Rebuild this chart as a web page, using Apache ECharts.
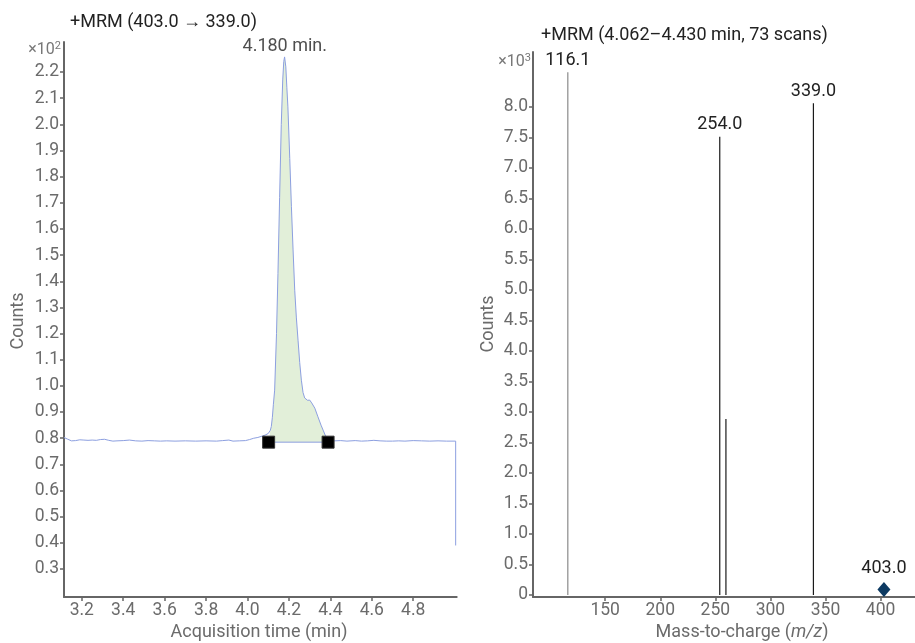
<!DOCTYPE html>
<html><head><meta charset="utf-8">
<script src="https://cdn.jsdelivr.net/npm/echarts@6/dist/echarts.min.js"></script>
<style>html,body{margin:0;padding:0;background:#fff}#c{width:915px;height:643px}</style>
</head><body><div id="c"></div>
<script>
// ---- Chromatogram (left), counts x10^2 ----
const times = [3.114,3.13,3.15,3.17,3.19,3.21,3.23,3.25,3.27,3.29,3.31,3.33,3.35,3.37,3.40,3.43,3.46,3.49,3.52,3.55,3.58,3.61,3.65,3.70,3.75,3.80,3.85,3.88,3.91,3.93,3.96,3.99,4.01,4.03,4.05,4.07,4.085,4.10,4.11,4.115,4.12,4.125,4.131,4.14,4.147,4.155,4.163,4.17,4.175,4.179,4.185,4.19,4.195,4.204,4.212,4.22,4.228,4.236,4.244,4.252,4.26,4.268,4.276,4.285,4.29,4.30,4.31,4.325,4.34,4.355,4.365,4.375,4.385,4.40,4.42,4.45,4.48,4.52,4.55,4.58,4.61,4.64,4.67,4.70,4.73,4.76,4.80,4.84,4.88,4.92,4.96,5.005,5.005];
const counts = [0.803,0.797,0.790,0.791,0.794,0.793,0.792,0.793,0.792,0.795,0.796,0.792,0.789,0.790,0.791,0.793,0.790,0.789,0.791,0.790,0.789,0.790,0.789,0.790,0.789,0.790,0.789,0.791,0.793,0.789,0.790,0.791,0.795,0.800,0.803,0.808,0.812,0.818,0.830,0.845,0.88,0.93,0.984,1.20,1.43,1.72,2.00,2.17,2.24,2.258,2.22,2.14,2.067,1.87,1.685,1.52,1.366,1.26,1.175,1.09,1.022,0.975,0.954,0.950,0.945,0.946,0.935,0.915,0.882,0.850,0.831,0.812,0.800,0.793,0.790,0.791,0.789,0.791,0.789,0.790,0.792,0.790,0.789,0.789,0.790,0.789,0.791,0.790,0.789,0.790,0.789,0.789,0.39];
const peakTime = 4.180, peakCount = 2.258, peakLabel = '4.180 min.';
const integStart = 4.102, integEnd = 4.389, integBase = 0.785;
const leftTicks = [0.3,0.4,0.5,0.6,0.7,0.8,0.9,1.0,1.1,1.2,1.3,1.4,1.5,1.6,1.7,1.8,1.9,2.0,2.1,2.2];
const timeTicks = [3.2,3.4,3.6,3.8,4.0,4.2,4.4,4.6,4.8];

// ---- Spectrum (right), counts x10^3 ----
const mz = [116.1, 254.0, 259.6, 339.0];
const intensity = [8.57, 7.51, 2.885, 8.06];
const mzLabels = ['116.1', '254.0', '', '339.0'];
const precursorMz = 403.0, precursorY = 0.09, precursorLabel = '403.0';
const rightTicks = [0,0.5,1.0,1.5,2.0,2.5,3.0,3.5,4.0,4.5,5.0,5.5,6.0,6.5,7.0,7.5,8.0];
const mzTicks = [150,200,250,300,350,400];

const FONT = 'Roboto';
const axisGrey = '#6b6b6b';
const chart = echarts.init(document.getElementById('c'));

const trace = times.map((t,i)=>[t,counts[i]]);
const fill = [[integStart, integBase]].concat(trace.filter(p=>p[0]>integStart && p[0]<integEnd)).concat([[integEnd, integBase]]);

const lab = (vals, fmt) => ({customValues:vals, margin:5, formatter:fmt, fontFamily:FONT, fontSize:17.5, color:axisGrey});
const line = () => ({show:true, onZero:false, lineStyle:{color:'#666666', width:2, type:'solid', opacity:1}});
const tick = vals => ({show:true, customValues:vals, length:4, lineStyle:{color:'#666666', width:1.5}});

chart.setOption({
  animation:false,
  backgroundColor:'#fff',
  grid:[
    {left:64, top:42, width:392.7, height:555},
    {left:533, top:52, width:382, height:545}
  ],
  xAxis:[
    {type:'value', gridIndex:0, position:'bottom', min:3.114, max:5.01, axisLine:line(), axisTick:tick(timeTicks), splitLine:{show:false},
     axisLabel:lab(timeTicks, v=>v.toFixed(1))},
    {type:'value', gridIndex:1, position:'bottom', min:84.5, max:431.2, axisLine:line(), axisTick:tick(mzTicks), splitLine:{show:false},
     axisLabel:lab(mzTicks, v=>String(v))}
  ],
  yAxis:[
    {type:'value', gridIndex:0, position:'left', min:0.193, max:2.315, axisLine:line(), axisTick:tick(leftTicks), splitLine:{show:false},
     axisLabel:lab(leftTicks, v=>v.toFixed(1))},
    {type:'value', gridIndex:1, position:'left', min:-0.033, max:8.9, axisLine:line(), axisTick:tick(rightTicks), splitLine:{show:false},
     axisLabel:lab(rightTicks, v=>v===0?'0':v.toFixed(1))}
  ],
  series:[
    {type:'line', xAxisIndex:0, yAxisIndex:0, data:fill, symbol:'none',
     lineStyle:{width:0, opacity:0}, areaStyle:{color:'#e2efd9', opacity:1, origin:integBase}, z:1},
    {type:'line', xAxisIndex:0, yAxisIndex:0, data:[[integStart,integBase],[integEnd,integBase]], symbol:'none',
     lineStyle:{color:'#8c9fe0', width:1}, z:2},
    {type:'line', xAxisIndex:0, yAxisIndex:0, data:trace, symbol:'none',
     lineStyle:{color:'#8c9fe0', width:1}, z:3},
    {type:'scatter', xAxisIndex:0, yAxisIndex:0, data:[[integStart,integBase],[integEnd,integBase]],
     symbol:'rect', symbolSize:12, itemStyle:{color:'#000', opacity:1, borderColor:'#333', borderWidth:1}, z:4},
    {type:'scatter', xAxisIndex:0, yAxisIndex:0, data:[[peakTime,peakCount]], symbolSize:0,
     label:{show:true, position:'top', distance:1, formatter:peakLabel, fontFamily:FONT, fontSize:18, color:'#222'}, z:5},
    {type:'bar', xAxisIndex:1, yAxisIndex:1, barWidth:1.2,
     data: mz.map((m,i)=>({value:[m,intensity[i]], itemStyle:{color: i===0?'#8a8a8a':'#1a1a1a'},
       label:{show: mzLabels[i]!=='', formatter: mzLabels[i], position:'top', distance:3, fontFamily:FONT, fontSize:18, color:'#222'}})),
     z:3},
    {type:'scatter', xAxisIndex:1, yAxisIndex:1, data:[[precursorMz, precursorY]], symbol:'diamond', symbolSize:[13,15],
     itemStyle:{color:'#0d3a62', opacity:1},
     label:{show:true, position:'top', distance:4, formatter:precursorLabel, fontFamily:FONT, fontSize:18, color:'#222'}, z:4}
  ],
  graphic:[
    {type:'text', x:70, y:22, style:{text:'+MRM (403.0 \u2192 339.0)', fontFamily:FONT, fontSize:18, fill:'#222', verticalAlign:'middle'}},
    {type:'text', x:541, y:35, style:{text:'+MRM (4.062\u20134.430 min, 73 scans)', fontFamily:FONT, fontSize:18, fill:'#222', verticalAlign:'middle'}},
    {type:'text', x:61, y:49, style:{text:'{a|\u00d710}{s|2}', rich:{a:{fontFamily:FONT, fontSize:16, fill:'#777', verticalAlign:'bottom'}, s:{fontFamily:FONT, fontSize:11, fill:'#777', verticalAlign:'top', padding:[0,0,6,0]}}, align:'right', verticalAlign:'middle'}},
    {type:'text', x:531, y:61, style:{text:'{a|\u00d710}{s|3}', rich:{a:{fontFamily:FONT, fontSize:16, fill:'#777', verticalAlign:'bottom'}, s:{fontFamily:FONT, fontSize:11, fill:'#777', verticalAlign:'top', padding:[0,0,6,0]}}, align:'right', verticalAlign:'middle'}},
    {type:'text', x:18, y:321, rotation:Math.PI/2, style:{text:'Counts', fontFamily:FONT, fontSize:18, fill:axisGrey, align:'center', verticalAlign:'middle'}},
    {type:'text', x:488, y:324, rotation:Math.PI/2, style:{text:'Counts', fontFamily:FONT, fontSize:18, fill:axisGrey, align:'center', verticalAlign:'middle'}},
    {type:'text', x:259, y:632, style:{text:'Acquisition time (min)', fontFamily:FONT, fontSize:18, fill:axisGrey, align:'center', verticalAlign:'middle'}},
    {type:'text', x:742, y:632, style:{text:'Mass-to-charge ({i|m/z})', rich:{i:{fontStyle:'italic', fontFamily:FONT, fontSize:18, fill:axisGrey}}, fontFamily:FONT, fontSize:18, fill:axisGrey, align:'center', verticalAlign:'middle'}}
  ]
});
</script></body></html>
